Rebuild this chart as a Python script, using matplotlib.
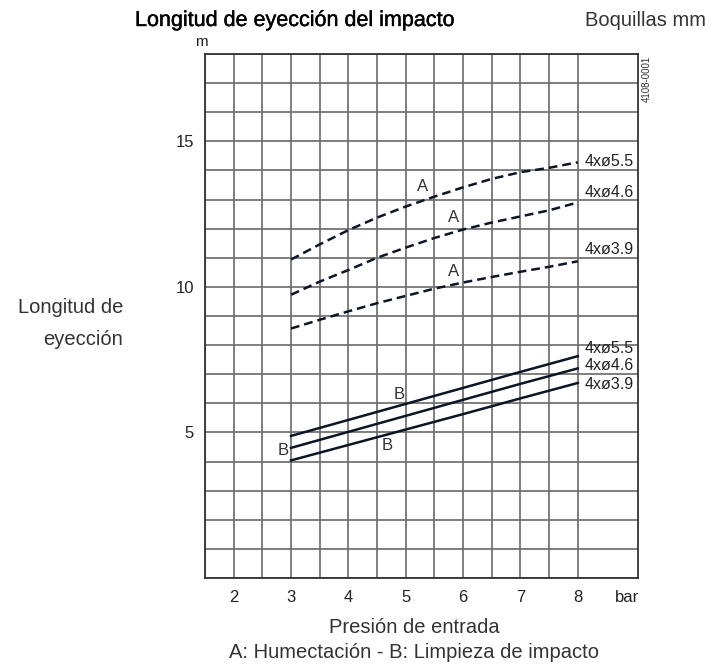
import numpy as np
import matplotlib
matplotlib.use("Agg")
import matplotlib.pyplot as plt
import matplotlib.patheffects as pe

plt.rcParams['font.family'] = ['Liberation Sans', 'DejaVu Sans']

# ===== data =====
# A: Humectacion (dashed)
xa = [3, 3.5, 4, 4.5, 5, 5.5, 6, 6.5, 7, 7.5, 8]
a_55 = [10.94, 11.46, 11.95, 12.38, 12.76, 13.10, 13.42, 13.71, 13.94, 14.09, 14.28]
a_46 = [9.73, 10.18, 10.58, 11.00, 11.35, 11.68, 11.97, 12.21, 12.42, 12.63, 12.90]
a_39 = [8.57, 8.87, 9.16, 9.44, 9.69, 9.94, 10.15, 10.34, 10.52, 10.69, 10.88]

# B: Limpieza de impacto (solid)
xb = [3, 4, 5, 6, 7, 8]
b_55 = [4.88, 5.43, 5.98, 6.53, 7.08, 7.62]
b_46 = [4.47, 5.02, 5.57, 6.12, 6.67, 7.20]
b_39 = [4.04, 4.57, 5.10, 5.63, 6.17, 6.70]

nozzles = ['4xø5.5', '4xø4.6', '4xø3.9']
label_y_a = [14.32, 13.24, 11.29]
label_y_b = [7.90, 7.29, 6.64]

xticks = [2, 3, 4, 5, 6, 7, 8]
yticks = [5, 10, 15]

line_col = '#0b1526'
txt_col = '#333333'
grid_col = '#6a6a6a'

fig = plt.figure(figsize=(7.16, 6.70), dpi=100)
ax = fig.add_axes([205/716, 1-578/670, (638-205)/716, (578-54)/670])

ax.set_xlim(1.5, 9.05)
ax.set_ylim(0, 18)

ax.set_xticks(xticks)
ax.set_xticks(np.arange(1.5, 8.01, 0.5), minor=True)
ax.set_yticks(yticks)
ax.set_yticks(np.arange(0, 18.01, 1), minor=True)
ax.grid(which='both', color=grid_col, lw=1.2)
ax.set_axisbelow(True)
ax.tick_params(which='both', length=0)
ax.tick_params(axis='x', pad=8.5, labelsize=12, labelcolor='#222222')
ax.tick_params(axis='y', pad=8, labelsize=12, labelcolor='#222222')
for s in ax.spines.values():
    s.set_color('#333333')
    s.set_linewidth(1.3)

dash = (0, (3.5, 2))
ax.plot(xa, a_55, color=line_col, lw=1.8, linestyle=dash)
ax.plot(xa, a_46, color=line_col, lw=1.8, linestyle=dash)
ax.plot(xa, a_39, color=line_col, lw=1.8, linestyle=dash)
ax.plot(xb, b_55, color=line_col, lw=1.8)
ax.plot(xb, b_46, color=line_col, lw=1.8)
ax.plot(xb, b_39, color=line_col, lw=1.8)

for name, yy in zip(nozzles, label_y_a):
    ax.text(8.12, yy, name, fontsize=11.5, color='#222222', va='center', ha='left')
for name, yy in zip(nozzles, label_y_b):
    ax.text(8.12, yy, name, fontsize=11.5, color='#222222', va='center', ha='left')

# curve letters
ax.text(5.3, 13.46, 'A', fontsize=12, color=txt_col, ha='center', va='center')
ax.text(5.84, 12.37, 'A', fontsize=12, color=txt_col, ha='center', va='center')
ax.text(5.84, 10.53, 'A', fontsize=12, color=txt_col, ha='center', va='center')
ax.text(4.88, 6.30, 'B', fontsize=12, color=txt_col, ha='center', va='center')
ax.text(2.86, 4.39, 'B', fontsize=12, color=txt_col, ha='center', va='center')
ax.text(4.68, 4.56, 'B', fontsize=12, color=txt_col, ha='center', va='center')

# 'bar' unit next to x ticks
ax.text(8.86, -0.82, 'bar', fontsize=12, color='#222222', ha='center', va='baseline',
        clip_on=False)

fig.text(135/716, 1-26/670, 'Longitud de eyección del impacto', fontsize=15.5,
         color='black', ha='left', va='baseline',
         path_effects=[pe.withStroke(linewidth=0.3, foreground='black')])
fig.text(706/716, 1-26/670, 'Boquillas mm', fontsize=14.5, color=txt_col,
         ha='right', va='baseline')
fig.text(201/716, 1-46/670, 'm', fontsize=11, color='#222222', ha='center', va='baseline')
fig.text(646.5/716, 1-78.5/670, '4108-0001', fontsize=7, color=txt_col,
         rotation=90, ha='center', va='center')

fig.text(123/716, 1-313/670, 'Longitud de', fontsize=14.5, color=txt_col,
         ha='right', va='baseline')
fig.text(123/716, 1-345/670, 'eyección', fontsize=14.5, color=txt_col,
         ha='right', va='baseline')

fig.text(414/716, 1-633/670, 'Presión de entrada', fontsize=14.5, color=txt_col,
         ha='center', va='baseline')
fig.text(414/716, 1-658/670, 'A: Humectación - B: Limpieza de impacto', fontsize=14.5,
         color=txt_col, ha='center', va='baseline')

fig.savefig('out.png', dpi=100)
